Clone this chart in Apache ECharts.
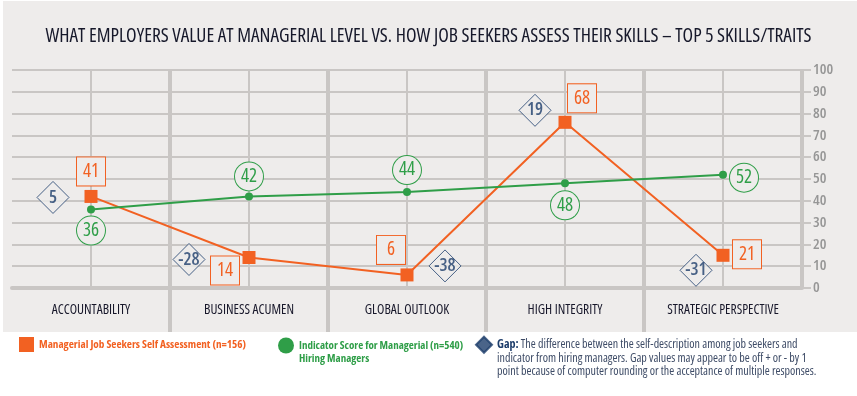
<!DOCTYPE html>
<html>
<head>
<meta charset="utf-8">
<title>Managerial skills vs. self assessment</title>
<script src="https://cdn.jsdelivr.net/npm/echarts@6/dist/echarts.min.js"></script>
<style>
  html, body { margin: 0; padding: 0; background: #fff; }
  #chart { width: 857px; height: 396px; }
</style>
</head>
<body>
<div id="chart"></div>
<script>
// categories
const skills = ['ACCOUNTABILITY', 'BUSINESS ACUMEN', 'GLOBAL OUTLOOK', 'HIGH INTEGRITY', 'STRATEGIC PERSPECTIVE']
// job seekers: where the squares sit in the picture, and the numbers printed beside them
const seekerPlotted = [42, 14, 6, 76, 15]
const seekerScore = [41, 14, 6, 68, 21]
// hiring managers indicator score
const hiringScore = [36, 42, 44, 48, 52]
// gap (self description minus indicator)
const gapScore = [5, -28, -38, 19, -31]

const seekerName = 'Managerial Job Seekers Self Assessment (n=156)'
const hiringName = 'Indicator Score for Managerial (n=540)'

// label placement around each point, in pixels
const seekerLabelOffset = [[0, -25], [-24, 13], [-16, -25], [17, -24], [24, -1]]
const hiringLabelOffset = [[0, 21], [0, -20], [0, -22], [0, 22], [21, 3]]
const gapOffset = [[-38, 1], [-60, 2], [38, -9], [-30, -12], [-27, 15]]

const orange = '#f26122'
const green = '#2f9e48'
const navy = '#1d3d6b'
const panel = '#eeeceb'
const lineGray = '#c9c6c4'
const font = "'Open Sans', sans-serif"

// the original uses a condensed face; Open Sans has a condensed width, so ask for it on every canvas font
const fontProp = Object.getOwnPropertyDescriptor(CanvasRenderingContext2D.prototype, 'font')
Object.defineProperty(CanvasRenderingContext2D.prototype, 'font', {
  configurable: true,
  get() { return fontProp.get.call(this) },
  set(v) {
    fontProp.set.call(this, v)
    this.fontStretch = 'condensed'
  },
})

const chart = echarts.init(document.getElementById('chart'))

const option = {
  animation: false,
  graphic: [
    {
      type: 'rect',
      left: 3,
      top: 1,
      z: -10,
      silent: true,
      shape: { width: 854, height: 331 },
      style: { fill: panel },
    },
  ],
  title: {
    text: 'WHAT EMPLOYERS VALUE AT MANAGERIAL LEVEL VS. HOW JOB SEEKERS ASSESS THEIR SKILLS – TOP 5 SKILLS/TRAITS',
    left: 'center',
    top: 22,
    textStyle: { fontFamily: font, fontSize: 19.4, fontWeight: 'normal', color: '#16182a' },
  },
  legend: [
    {
      data: [{ name: seekerName, icon: 'rect' }],
      left: 19,
      top: 337,
      padding: 0,
      itemWidth: 15,
      itemHeight: 15,
      selectedMode: false,
      textStyle: { fontFamily: font, fontSize: 11.2, fontWeight: 'bold', color: orange },
    },
    {
      data: [{ name: hiringName, icon: 'circle' }],
      left: 278,
      top: 326,
      padding: 0,
      itemWidth: 16,
      itemHeight: 16,
      selectedMode: false,
      // leading blank line keeps the icon level with the first text line
      formatter: (name) => '\n' + name + '\nHiring Managers',
      textStyle: { fontFamily: font, fontSize: 11, fontWeight: 'bold', color: green, lineHeight: 13 },
    },
    {
      data: [{ name: 'Gap', icon: 'diamond' }],
      left: 475,
      top: 311,
      padding: 0,
      itemWidth: 16,
      itemHeight: 16,
      selectedMode: false,
      formatter: () =>
        '{t| }\n{t| }\n' +
        '{b|Gap:}{t| The difference between the self-description among job seekers and}\n' +
        '{t|indicator from hiring managers. Gap values may appear to be off + or - by 1}\n' +
        '{t|point because of computer rounding or the acceptance of multiple responses.}',
      textStyle: {
        fontFamily: font,
        fontSize: 12,
        color: '#3d4b66',
        lineHeight: 13.5,
        rich: {
          b: { fontFamily: font, fontSize: 12, fontWeight: 'bold', color: navy, lineHeight: 13.5 },
          t: { fontFamily: font, fontSize: 12, color: '#3d4b66', lineHeight: 13.5 },
        },
      },
    },
  ],
  grid: [
    { left: 12, right: 55, top: 70, height: 218 },
    { left: 12, right: 55, top: 288, height: 44 },
  ],
  xAxis: [
    {
      gridIndex: 0,
      type: 'category',
      data: skills,
      boundaryGap: true,
      axisLine: { show: true, lineStyle: { color: lineGray, width: 4 } },
      axisTick: { show: false },
      axisLabel: { interval: 0, fontFamily: font, fontSize: 13.5, color: '#17172a', margin: 15 },
      splitLine: { show: true, interval: 0, showMinLine: false, lineStyle: { color: lineGray, width: 4 } },
    },
    {
      gridIndex: 1,
      type: 'category',
      data: skills,
      boundaryGap: true,
      axisLine: { show: false },
      axisTick: { show: false },
      axisLabel: { show: false, interval: 0 },
      splitLine: { show: true, interval: 0, showMinLine: false, showMaxLine: false, lineStyle: { color: lineGray, width: 4 } },
    },
  ],
  yAxis: [
    {
      gridIndex: 0,
      type: 'value',
      position: 'right',
      min: 0,
      max: 100,
      interval: 10,
      axisLine: { show: false },
      axisTick: { show: true, length: 9, lineStyle: { color: lineGray, width: 2 } },
      axisLabel: { fontFamily: font, fontSize: 15, fontWeight: 600, color: '#969696', margin: 11 },
      splitLine: { show: true, lineStyle: { color: lineGray, width: 2 } },
    },
    {
      gridIndex: 1,
      type: 'value',
      show: false,
      splitLine: { show: false },
    },
  ],
  series: [
    {
      name: seekerName,
      type: 'line',
      xAxisIndex: 0,
      yAxisIndex: 0,
      z: 3,
      data: seekerPlotted.map((v, i) => ({ value: v, label: { offset: seekerLabelOffset[i] } })),
      symbol: 'rect',
      symbolSize: 13,
      lineStyle: { color: orange, width: 2 },
      itemStyle: { color: orange },
      label: {
        show: true,
        position: 'inside',
        formatter: (p) => String(seekerScore[p.dataIndex]),
        fontFamily: font,
        fontSize: 19,
        color: orange,
        backgroundColor: panel,
        borderColor: orange,
        borderWidth: 1,
        width: 28,
        height: 28,
        lineHeight: 28,
        align: 'center',
      },
      markLine: {
        silent: true,
        z: 1,
        symbol: ['none', 'none'],
        label: { show: false },
        lineStyle: { color: lineGray, width: 2, type: 'solid' },
        emphasis: { disabled: true },
        data: skills.map((s) => [{ coord: [s, 0] }, { coord: [s, 100] }]),
      },
    },
    {
      name: hiringName,
      type: 'line',
      xAxisIndex: 0,
      yAxisIndex: 0,
      z: 3,
      data: hiringScore.map((v, i) => ({ value: v, label: { offset: hiringLabelOffset[i] } })),
      symbol: 'circle',
      symbolSize: 8,
      lineStyle: { color: green, width: 2 },
      itemStyle: { color: green },
      label: {
        show: true,
        position: 'inside',
        formatter: '{c}',
        fontFamily: font,
        fontSize: 19,
        fontWeight: 500,
        color: green,
        backgroundColor: panel,
        borderColor: green,
        borderWidth: 1,
        borderRadius: 14,
        width: 28,
        height: 28,
        lineHeight: 28,
        align: 'center',
      },
    },
    {
      name: 'Gap',
      type: 'scatter',
      xAxisIndex: 0,
      yAxisIndex: 0,
      z: 4,
      // series colour stays navy for the legend; the diamonds on the chart are hollow
      data: seekerPlotted.map((v, i) => ({ value: v, symbolOffset: gapOffset[i], itemStyle: { color: panel } })),
      symbol: 'diamond',
      symbolSize: 32,
      itemStyle: { color: navy, borderColor: navy, borderWidth: 1 },
      label: {
        show: true,
        position: 'inside',
        formatter: (p) => String(gapScore[p.dataIndex]),
        fontFamily: font,
        fontSize: 18,
        fontWeight: 600,
        color: navy,
      },
    },
  ],
}

chart.setOption(option)
window.addEventListener('resize', () => chart.resize())
</script>
</body>
</html>
